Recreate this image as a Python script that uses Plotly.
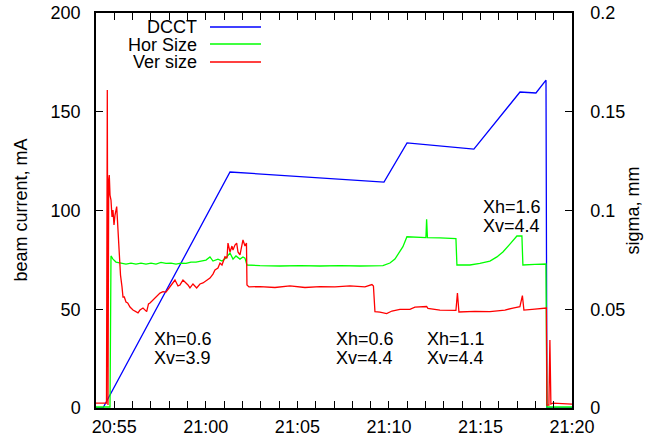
import pandas as pd
import plotly.graph_objects as go

# time axis: minutes elapsed after 20:54:00
START = pd.Timestamp("2000-01-01 20:54:00")

dcct_min = [0.00, 0.38, 7.32, 15.73, 16.99, 20.64, 23.16, 24.03, 24.58, 24.63, 26.00]
dcct_mA = [0, 0, 119.5, 114.4, 134.2, 131.1, 160.0, 159.5, 166.0, 0, 0]

hor_min = [0.000, 0.655, 0.765, 0.819, 0.928, 1.092, 1.365, 1.638, 1.911, 2.184,
           2.457, 2.731, 3.004, 3.277, 3.550, 3.823, 4.096, 4.369, 4.642, 4.915,
           5.188, 5.461, 5.734, 6.007, 6.225, 6.389, 6.662, 6.881, 7.099, 7.318,
           7.482, 7.645, 7.864, 8.028, 8.137, 8.246, 8.956, 10.048, 11.140, 12.233,
           13.325, 14.417, 15.673, 16.055, 16.328, 16.601, 16.765, 16.983, 17.147, 17.693,
           18.021, 18.059, 18.103, 18.786, 19.660, 19.714, 20.424, 20.970, 21.516, 21.899,
           22.226, 22.609, 22.827, 22.991, 23.264, 23.318, 23.974, 24.575, 24.629, 26.0]
hor_sigma = [0.0005, 0.0005, 0.0005, 0.0770, 0.0754, 0.0739, 0.0734, 0.0729, 0.0734, 0.0729,
             0.0734, 0.0729, 0.0734, 0.0729, 0.0737, 0.0732, 0.0734, 0.0729, 0.0734, 0.0732,
             0.0739, 0.0739, 0.0744, 0.0749, 0.0765, 0.0744, 0.0754, 0.0744, 0.0759, 0.0785,
             0.0754, 0.0770, 0.0754, 0.0765, 0.0759, 0.0724, 0.0721, 0.0719, 0.0721, 0.0719,
             0.0721, 0.0719, 0.0721, 0.0734, 0.0754, 0.0790, 0.0817, 0.0867, 0.0866, 0.0863,
             0.0863, 0.0955, 0.0863, 0.0861, 0.0858, 0.0724, 0.0724, 0.0732, 0.0744, 0.0765,
             0.0790, 0.0830, 0.0851, 0.0871, 0.0871, 0.0724, 0.0727, 0.0729, 0.0005, 0.0005]

ver_min = [0.000, 0.573, 0.617, 0.655, 0.694, 0.726, 0.765, 0.819, 0.874, 0.928,
           0.983, 1.038, 1.130, 1.174, 1.229, 1.272, 1.338, 1.420, 1.474, 1.545,
           1.638, 1.731, 1.857, 2.021, 2.157, 2.294, 2.403, 2.567, 2.769, 2.867,
           2.949, 3.113, 3.315, 3.495, 3.659, 3.823, 4.041, 4.205, 4.314, 4.478,
           4.587, 4.751, 4.860, 5.024, 5.133, 5.297, 5.499, 5.679, 5.843, 6.007,
           6.225, 6.389, 6.499, 6.662, 6.772, 6.881, 7.045, 7.154, 7.209, 7.318,
           7.427, 7.482, 7.591, 7.684, 7.755, 7.864, 7.946, 8.028, 8.137, 8.219,
           8.246, 8.355, 8.956, 9.775, 10.594, 11.413, 12.233, 13.052, 13.871, 14.690,
           15.072, 15.154, 15.236, 15.509, 15.875, 16.165, 16.601, 17.147, 17.420, 18.059,
           18.130, 18.786, 19.660, 19.742, 19.824, 20.697, 21.516, 22.335, 22.772, 23.154,
           23.291, 23.373, 23.974, 24.602, 24.629, 24.738, 24.793, 24.847, 24.957, 26.0]
ver_sigma = [0.0025, 0.0025, 0.1610, 0.0015, 0.1154, 0.1180, 0.1078, 0.1053, 0.0967, 0.1002,
             0.0927, 0.0977, 0.1020, 0.0952, 0.0851, 0.0785, 0.0673, 0.0613, 0.0562, 0.0562,
             0.0537, 0.0532, 0.0511, 0.0496, 0.0491, 0.0482, 0.0496, 0.0506, 0.0488, 0.0527,
             0.0532, 0.0547, 0.0564, 0.0582, 0.0589, 0.0587, 0.0614, 0.0633, 0.0648, 0.0618,
             0.0623, 0.0648, 0.0639, 0.0623, 0.0608, 0.0628, 0.0608, 0.0628, 0.0633, 0.0643,
             0.0658, 0.0678, 0.0699, 0.0709, 0.0734, 0.0724, 0.0766, 0.0759, 0.0835, 0.0790,
             0.0820, 0.0800, 0.0825, 0.0835, 0.0790, 0.0775, 0.0815, 0.0851, 0.0820, 0.0835,
             0.0623, 0.0613, 0.0615, 0.0610, 0.0618, 0.0610, 0.0615, 0.0613, 0.0618, 0.0613,
             0.0625, 0.0618, 0.0488, 0.0486, 0.0478, 0.0491, 0.0499, 0.0499, 0.0511, 0.0514,
             0.0504, 0.0496, 0.0494, 0.0582, 0.0486, 0.0489, 0.0488, 0.0496, 0.0506, 0.0513,
             0.0569, 0.0496, 0.0501, 0.0506, 0.0015, 0.0015, 0.0344, 0.0020, 0.0025, 0.0020]

series_names = ["DCCT", "Hor Size", "Ver size"]
series_colors = ["#0000ff", "#00ff00", "#ff0000"]

# annotation labels: (minutes after 20:54, mA level, text)
label_min = [3.10, 3.10, 13.05, 13.05, 18.02, 18.02, 21.06, 21.06]
label_mA = [34.9, 25.3, 34.9, 25.3, 34.9, 25.3, 101.8, 92.1]
label_text = ["Xh=0.6", "Xv=3.9", "Xh=0.6", "Xv=4.4", "Xh=1.1", "Xv=4.4", "Xh=1.6", "Xv=4.4"]

FONT = "Liberation Sans, Arial, sans-serif"
FS = 18


def to_time(mins):
    return [START + pd.Timedelta(minutes=m) for m in mins]


fig = go.Figure()
fig.add_trace(go.Scatter(x=to_time(dcct_min), y=dcct_mA, mode="lines", name=series_names[0],
                         line=dict(color=series_colors[0], width=1.3), yaxis="y"))
fig.add_trace(go.Scatter(x=to_time(hor_min), y=hor_sigma, mode="lines", name=series_names[1],
                         line=dict(color=series_colors[1], width=1.3), yaxis="y2"))
fig.add_trace(go.Scatter(x=to_time(ver_min), y=ver_sigma, mode="lines", name=series_names[2],
                         line=dict(color=series_colors[2], width=1.3), yaxis="y2"))

# gnuplot-style key: right-aligned text with line sample on its right
key_text_x = 0.2143
key_line_x0, key_line_x1 = 0.2395, 0.3466
key_rows = [0.9646, 0.9215, 0.876]
for name, color, yy in zip(series_names, series_colors, key_rows):
    fig.add_annotation(xref="paper", yref="paper", x=key_text_x, y=yy, text=name,
                       showarrow=False, xanchor="right", yanchor="middle", borderpad=0,
                       height=17, valign="middle",
                       font=dict(family=FONT, size=FS, color="black"))
    fig.add_shape(type="line", xref="paper", yref="paper", x0=key_line_x0, x1=key_line_x1,
                  y0=yy, y1=yy, line=dict(color=color, width=1.3))

for m, v, t in zip(label_min, label_mA, label_text):
    fig.add_annotation(x=START + pd.Timedelta(minutes=m), y=v, xref="x", yref="y", text=t,
                       showarrow=False, xanchor="left", yanchor="middle", borderpad=0,
                       font=dict(family=FONT, size=FS, color="black"))

# axis titles (centred on the plot height, as gnuplot does)
fig.add_annotation(xref="paper", yref="paper", x=0, y=0.5, xshift=-76, text="beam current, mA",
                   textangle=-90, showarrow=False, xanchor="center", yanchor="middle",
                   font=dict(family=FONT, size=FS, color="black"))
fig.add_annotation(xref="paper", yref="paper", x=1, y=0.5, xshift=60, text="sigma, mm",
                   textangle=-90, showarrow=False, xanchor="center", yanchor="middle",
                   font=dict(family=FONT, size=FS, color="black"))

fig.update_layout(
    width=671, height=436,
    margin=dict(l=96, r=99, t=13, b=28, autoexpand=False),
    paper_bgcolor="white", plot_bgcolor="white",
    showlegend=False,
    font=dict(family=FONT, size=FS, color="black"),
    xaxis=dict(
        type="date", automargin=False,
        range=[START, START + pd.Timedelta(minutes=26)],
        tick0="2000-01-01 20:55:00", dtick=300000, tickformat="%H:%M",
        ticks="inside", ticklen=7, tickwidth=1, tickcolor="black",
        minor=dict(dtick=60000, ticks="inside", ticklen=4, tickwidth=1, tickcolor="black"),
        showline=True, linecolor="black", linewidth=1.5, mirror="allticks",
        showgrid=False, zeroline=False, ticklabelstandoff=2,
    ),
    yaxis=dict(
        range=[0, 200], dtick=50, tick0=0, automargin=False,
        ticks="inside", ticklen=7, tickwidth=1, tickcolor="black",
        showline=True, linecolor="black", linewidth=1.5, mirror=False,
        showgrid=False, zeroline=False, ticklabelstandoff=10,
    ),
    yaxis2=dict(
        range=[0, 0.2], dtick=0.05, tick0=0, overlaying="y", side="right", automargin=False,
        ticks="inside", ticklen=7, tickwidth=1, tickcolor="black",
        showline=True, linecolor="black", linewidth=1.5,
        showgrid=False, zeroline=False, ticklabelstandoff=13,
    ),
)

fig.write_html("out.html")
